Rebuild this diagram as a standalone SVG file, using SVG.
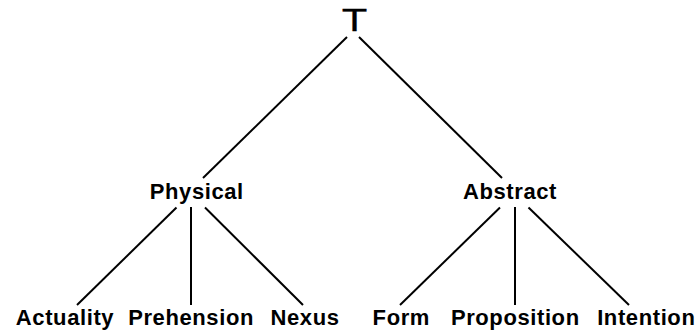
<svg xmlns="http://www.w3.org/2000/svg" width="698" height="332" viewBox="0 0 698 332">
  <style>
    .lbl { font-family: "Liberation Sans", Arial, sans-serif; font-weight: bold; font-size: 22px; letter-spacing: 0.6px; fill: #000; text-anchor: middle; }
    .top { font-family: "Liberation Sans", Arial, sans-serif; font-size: 31px; fill: #000; stroke: #000; stroke-width: 0.25; text-anchor: middle; }
    .edge { stroke: #000; stroke-width: 2; fill: none; stroke-linecap: butt; }
  </style>
  <rect width="698" height="332" fill="#fff"/>
  <g id="connectors">
    <line class="edge" x1="347" y1="37" x2="203" y2="178"/>
    <line class="edge" x1="359" y1="37" x2="502" y2="178"/>
    <line class="edge" x1="176.5" y1="207.5" x2="77" y2="305"/>
    <line class="edge" x1="191" y1="207" x2="191" y2="305"/>
    <line class="edge" x1="205" y1="207.5" x2="303" y2="305"/>
    <line class="edge" x1="500" y1="207.5" x2="400" y2="305"/>
    <line class="edge" x1="515" y1="207" x2="515" y2="305"/>
    <line class="edge" x1="528.5" y1="207.5" x2="629" y2="305"/>
  </g>
  <g id="node-top">
    <text class="top" transform="translate(354.5,31) scale(1.35,1)" x="0" y="0">T</text>
  </g>
  <g id="node-physical"><text class="lbl" x="196.8" y="199">Physical</text></g>
  <g id="node-abstract"><text class="lbl" x="510" y="199">Abstract</text></g>
  <g id="node-actuality"><text class="lbl" x="65" y="325">Actuality</text></g>
  <g id="node-prehension"><text class="lbl" x="191.1" y="325">Prehension</text></g>
  <g id="node-nexus"><text class="lbl" x="305" y="325">Nexus</text></g>
  <g id="node-form"><text class="lbl" x="401.3" y="325">Form</text></g>
  <g id="node-proposition"><text class="lbl" x="515.3" y="325">Proposition</text></g>
  <g id="node-intention"><text class="lbl" x="646.3" y="325">Intention</text></g>
</svg>
